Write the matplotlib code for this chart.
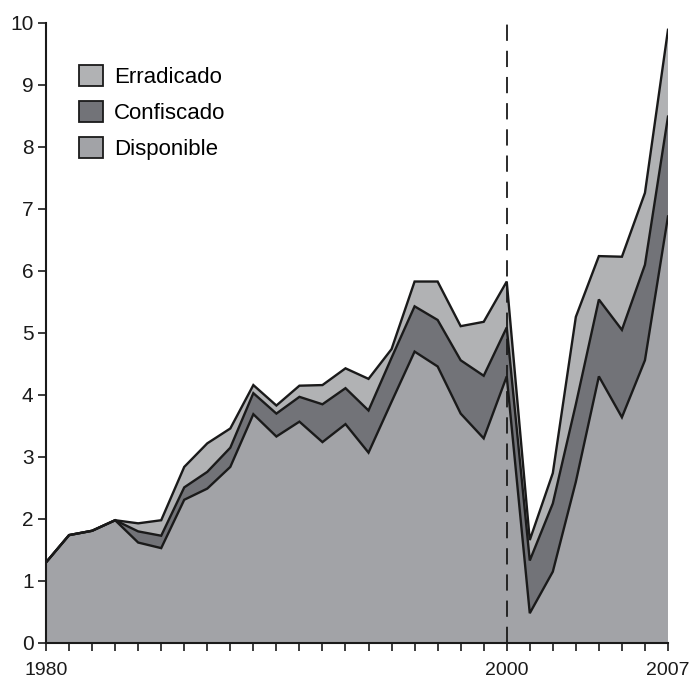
import numpy as np
import matplotlib.pyplot as plt
from matplotlib.patches import Patch

plt.rcParams['font.family'] = ['Liberation Sans', 'DejaVu Sans']

years = np.arange(1980, 2008)
disponible = [1.30, 1.74, 1.81, 1.98, 1.62, 1.53, 2.31, 2.49, 2.84, 3.69,
              3.33, 3.57, 3.24, 3.53, 3.07, 3.89, 4.70, 4.46, 3.70, 3.30,
              4.30, 0.48, 1.15, 2.60, 4.30, 3.64, 4.56, 6.88]
confiscado = [0, 0, 0, 0, 0.18, 0.20, 0.20, 0.27, 0.31, 0.34,
              0.37, 0.40, 0.61, 0.58, 0.68, 0.71, 0.73, 0.75, 0.86, 1.01,
              0.79, 0.85, 1.10, 1.25, 1.24, 1.41, 1.54, 1.61]
erradicado = [0, 0, 0, 0, 0.13, 0.25, 0.33, 0.46, 0.31, 0.13,
              0.13, 0.18, 0.31, 0.32, 0.51, 0.14, 0.40, 0.62, 0.55, 0.87,
              0.74, 0.33, 0.49, 1.41, 0.70, 1.18, 1.16, 1.40]
labels = ["Disponible", "Confiscado", "Erradicado"]
colors = ["#a2a3a7", "#727378", "#b1b2b4"]
tick_labels = {1980: "1980", 2000: "2000", 2007: "2007"}

fig = plt.figure(figsize=(6.89, 6.82), dpi=100)
ax = fig.add_axes([0.0668, 0.0572, 0.9027, 0.9091])

ax.stackplot(years, disponible, confiscado, erradicado, colors=colors, linewidth=0)
stack = np.cumsum([disponible, confiscado, erradicado], axis=0)
for s in stack:
    ax.plot(years, s, color="#1a1a1a", lw=1.7, solid_joinstyle="miter")

ax.axvline(2000, ymin=0, ymax=1, color="#1a1a1a", lw=1.3, linestyle=(0, (9, 5.5)))

ax.set_xlim(1980, 2007)
ax.set_ylim(0, 10)
ax.set_yticks(range(0, 11))
ax.set_xticks(years)
ax.set_xticklabels([tick_labels.get(y, "") for y in years])
ax.tick_params(axis="both", direction="out", length=6, width=1.2, color="#1a1a1a",
               labelsize=15, labelcolor="#1a1a1a")
ax.tick_params(axis="x", pad=8, labelsize=14)
ax.tick_params(axis="y", pad=3)
for side in ["top", "right"]:
    ax.spines[side].set_visible(False)
for side in ["left", "bottom"]:
    ax.spines[side].set_linewidth(1.5)
    ax.spines[side].set_color("#1a1a1a")

handles = [Patch(facecolor=colors[i], edgecolor="#1a1a1a", linewidth=1.3, label=labels[i])
           for i in [2, 1, 0]]
ax.legend(handles=handles, loc="upper left", bbox_to_anchor=(0.053, 0.933),
          frameon=False, fontsize=16, handlelength=1.08, handleheight=1.08,
          labelspacing=0.6, handletextpad=0.5, borderpad=0, borderaxespad=0)

fig.savefig("out.png", dpi=100)
